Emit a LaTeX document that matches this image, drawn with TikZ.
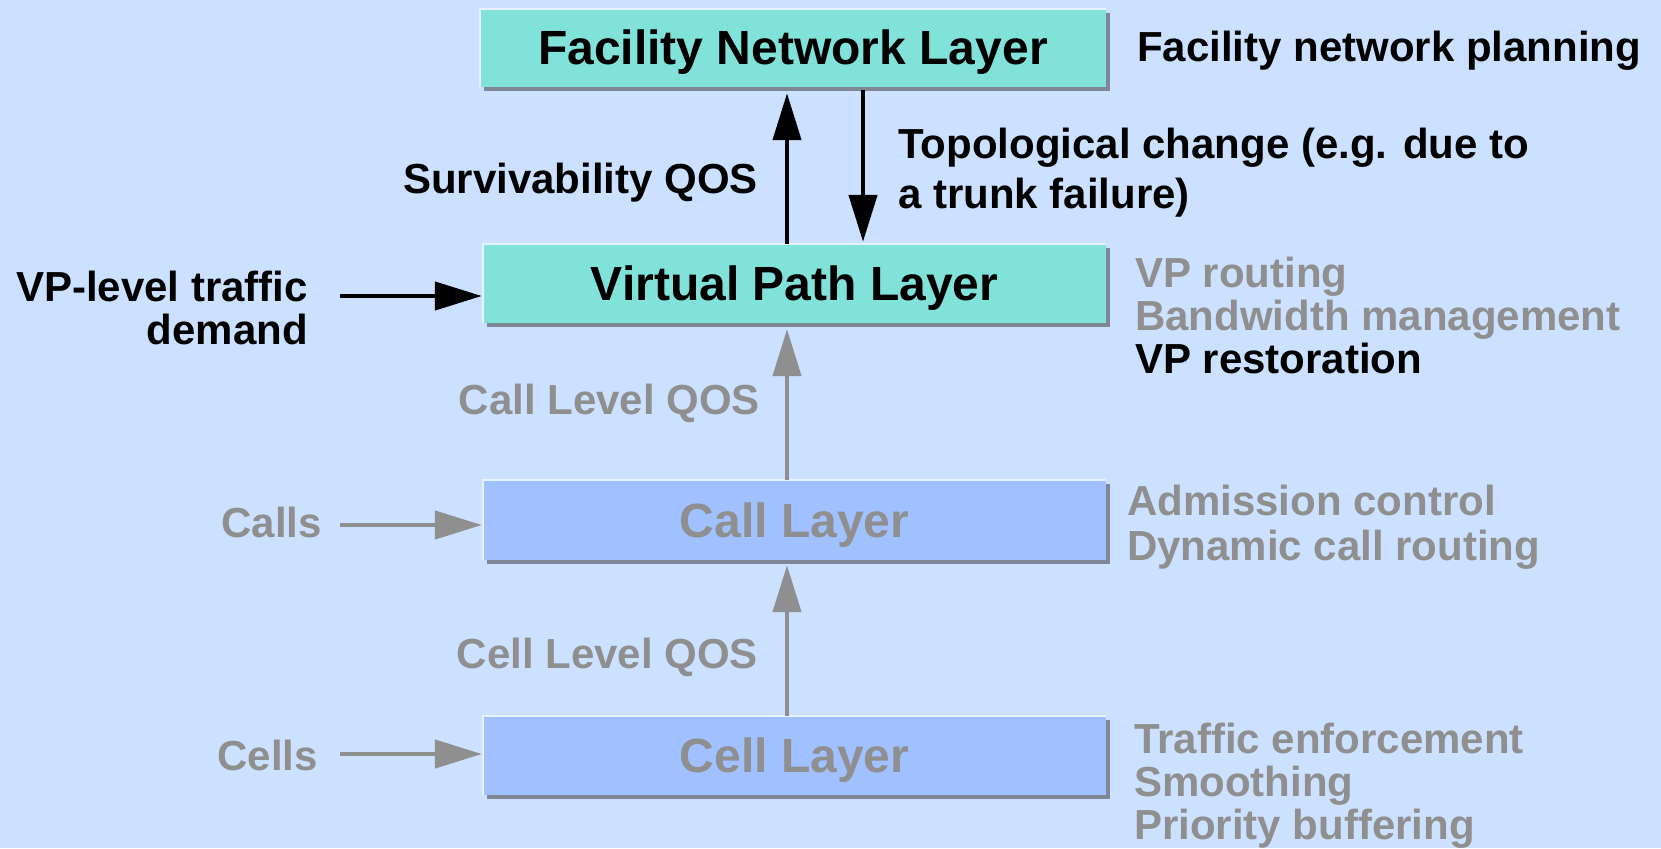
\documentclass[tikz,border=0pt]{standalone}
\usepackage{fontspec}
\setmainfont{Liberation Sans}
\usetikzlibrary{arrows.meta,calc}
\definecolor{bgc}{HTML}{CCE0FF}
\definecolor{tealc}{HTML}{80E2D8}
\definecolor{bluec}{HTML}{A0C0FF}
\definecolor{grayc}{HTML}{8F8F8F}
\definecolor{shadowc}{HTML}{7F8795}
\definecolor{hlc}{HTML}{E8F2FF}
\newcommand\lstack[1]{\begin{tabular}[t]{@{}l@{}}#1\end{tabular}}
\newcommand\rstack[1]{\begin{tabular}[t]{@{}r@{}}#1\end{tabular}}
\tikzset{
  layerbox/.style={inner sep=0pt, text height=34pt, text depth=0pt,
    font=\fontsize{48}{56}\selectfont\bfseries,
    preaction={fill=shadowc, transform canvas={xshift=4pt,yshift=-4pt}}},
  tealbox/.style={layerbox, fill=tealc, text=black},
  bluebox/.style={layerbox, fill=bluec, text=grayc},
  hlline/.style={draw=hlc, line width=2.5pt},
  lab/.style={inner sep=0pt, font=\fontsize{42}{42.5}\selectfont\bfseries},
  graylab/.style={lab, text=grayc},
  blkarrow/.style={draw=black, line width=4.5pt, -{Triangle[length=47pt,width=28pt]}},
  grayarrow/.style={draw=grayc, line width=4.5pt, -{Triangle[length=47pt,width=28pt]}}
}
\begin{document}
\begin{tikzpicture}[x=1pt,y=-1pt]
\fill[bgc] (0,0) rectangle (1661,848);
\useasboundingbox (0,0) rectangle (1661,848);

% layer boxes
\node[tealbox, minimum width=626pt, minimum height=78pt] (fac) at (793,48) {Facility Network Layer};
\node[tealbox, minimum width=623pt, minimum height=79pt] (vp) at (794.5,283.5) {Virtual Path Layer};
\node[bluebox, minimum width=623pt, minimum height=80pt] (call) at (794.5,520) {Call Layer};
\node[bluebox, minimum width=623pt, minimum height=79pt] (cell) at (794.5,755.5) {Cell Layer};
\foreach \b in {fac,vp,call,cell}{
  \draw[hlline] (\b.south west) -- (\b.north west) -- (\b.north east);
}

% side labels
\node[lab, anchor=base west] (fnp) at (1137,62) {Facility network planning};
\node[lab, anchor=base east] (surv) at (758,193) {Survivability QOS};
\node[inner sep=0pt, anchor=base west, font=\fontsize{42}{50}\selectfont\bfseries] (topo) at (898,158)
  {\lstack{Topological change (e.g. due to\\a trunk failure)}};
\node[inner sep=0pt, anchor=base east, font=\fontsize{42}{42}\selectfont\bfseries] (vpl) at (308,301)
  {\rstack{VP-level traffic\\demand}};
\node[inner sep=0pt, anchor=base west, text=grayc, font=\fontsize{42}{42.5}\selectfont\bfseries] (vpr) at (1135,287)
  {\lstack{VP routing\\Bandwidth management\\\color{black}VP restoration}};
\node[graylab, anchor=base east] (clq) at (760,414) {Call Level QOS};
\node[graylab, anchor=base east] (calls) at (322,537) {Calls};
\node[inner sep=0pt, anchor=base west, text=grayc, font=\fontsize{42}{45}\selectfont\bfseries] (adm) at (1127,515)
  {\lstack{Admission control\\Dynamic call routing}};
\node[graylab, anchor=base east] (celq) at (758,668) {Cell Level QOS};
\node[graylab, anchor=base east] (cells) at (318,770) {Cells};
\node[inner sep=0pt, anchor=base west, text=grayc, font=\fontsize{42}{42}\selectfont\bfseries] (trf) at (1134,753)
  {\lstack{Traffic enforcement\\Smoothing\\Priority buffering}};

% connectors
\coordinate (ux) at (787,0);
\coordinate (dx) at (863,0);
\coordinate (vpin) at (340,296);
\coordinate (callin) at (340,525);
\coordinate (cellin) at (340,754);
\draw[blkarrow, shorten >=6pt] (ux |- vp.north) -- (ux |- fac.south);
\draw[blkarrow, shorten <=3pt, shorten >=2pt] (dx |- fac.south) -- (dx |- vp.north);
\draw[blkarrow, shorten >=1pt] (vpin) -- (vpin -| vp.west);
\draw[grayarrow, shorten >=6pt] (ux |- call.north) -- (ux |- vp.south);
\draw[grayarrow, shorten >=5pt] (ux |- cell.north) -- (ux |- call.south);
\draw[grayarrow, shorten >=1pt] (callin) -- (callin -| call.west);
\draw[grayarrow, shorten >=1pt] (cellin) -- (cellin -| cell.west);
\end{tikzpicture}
\end{document}
